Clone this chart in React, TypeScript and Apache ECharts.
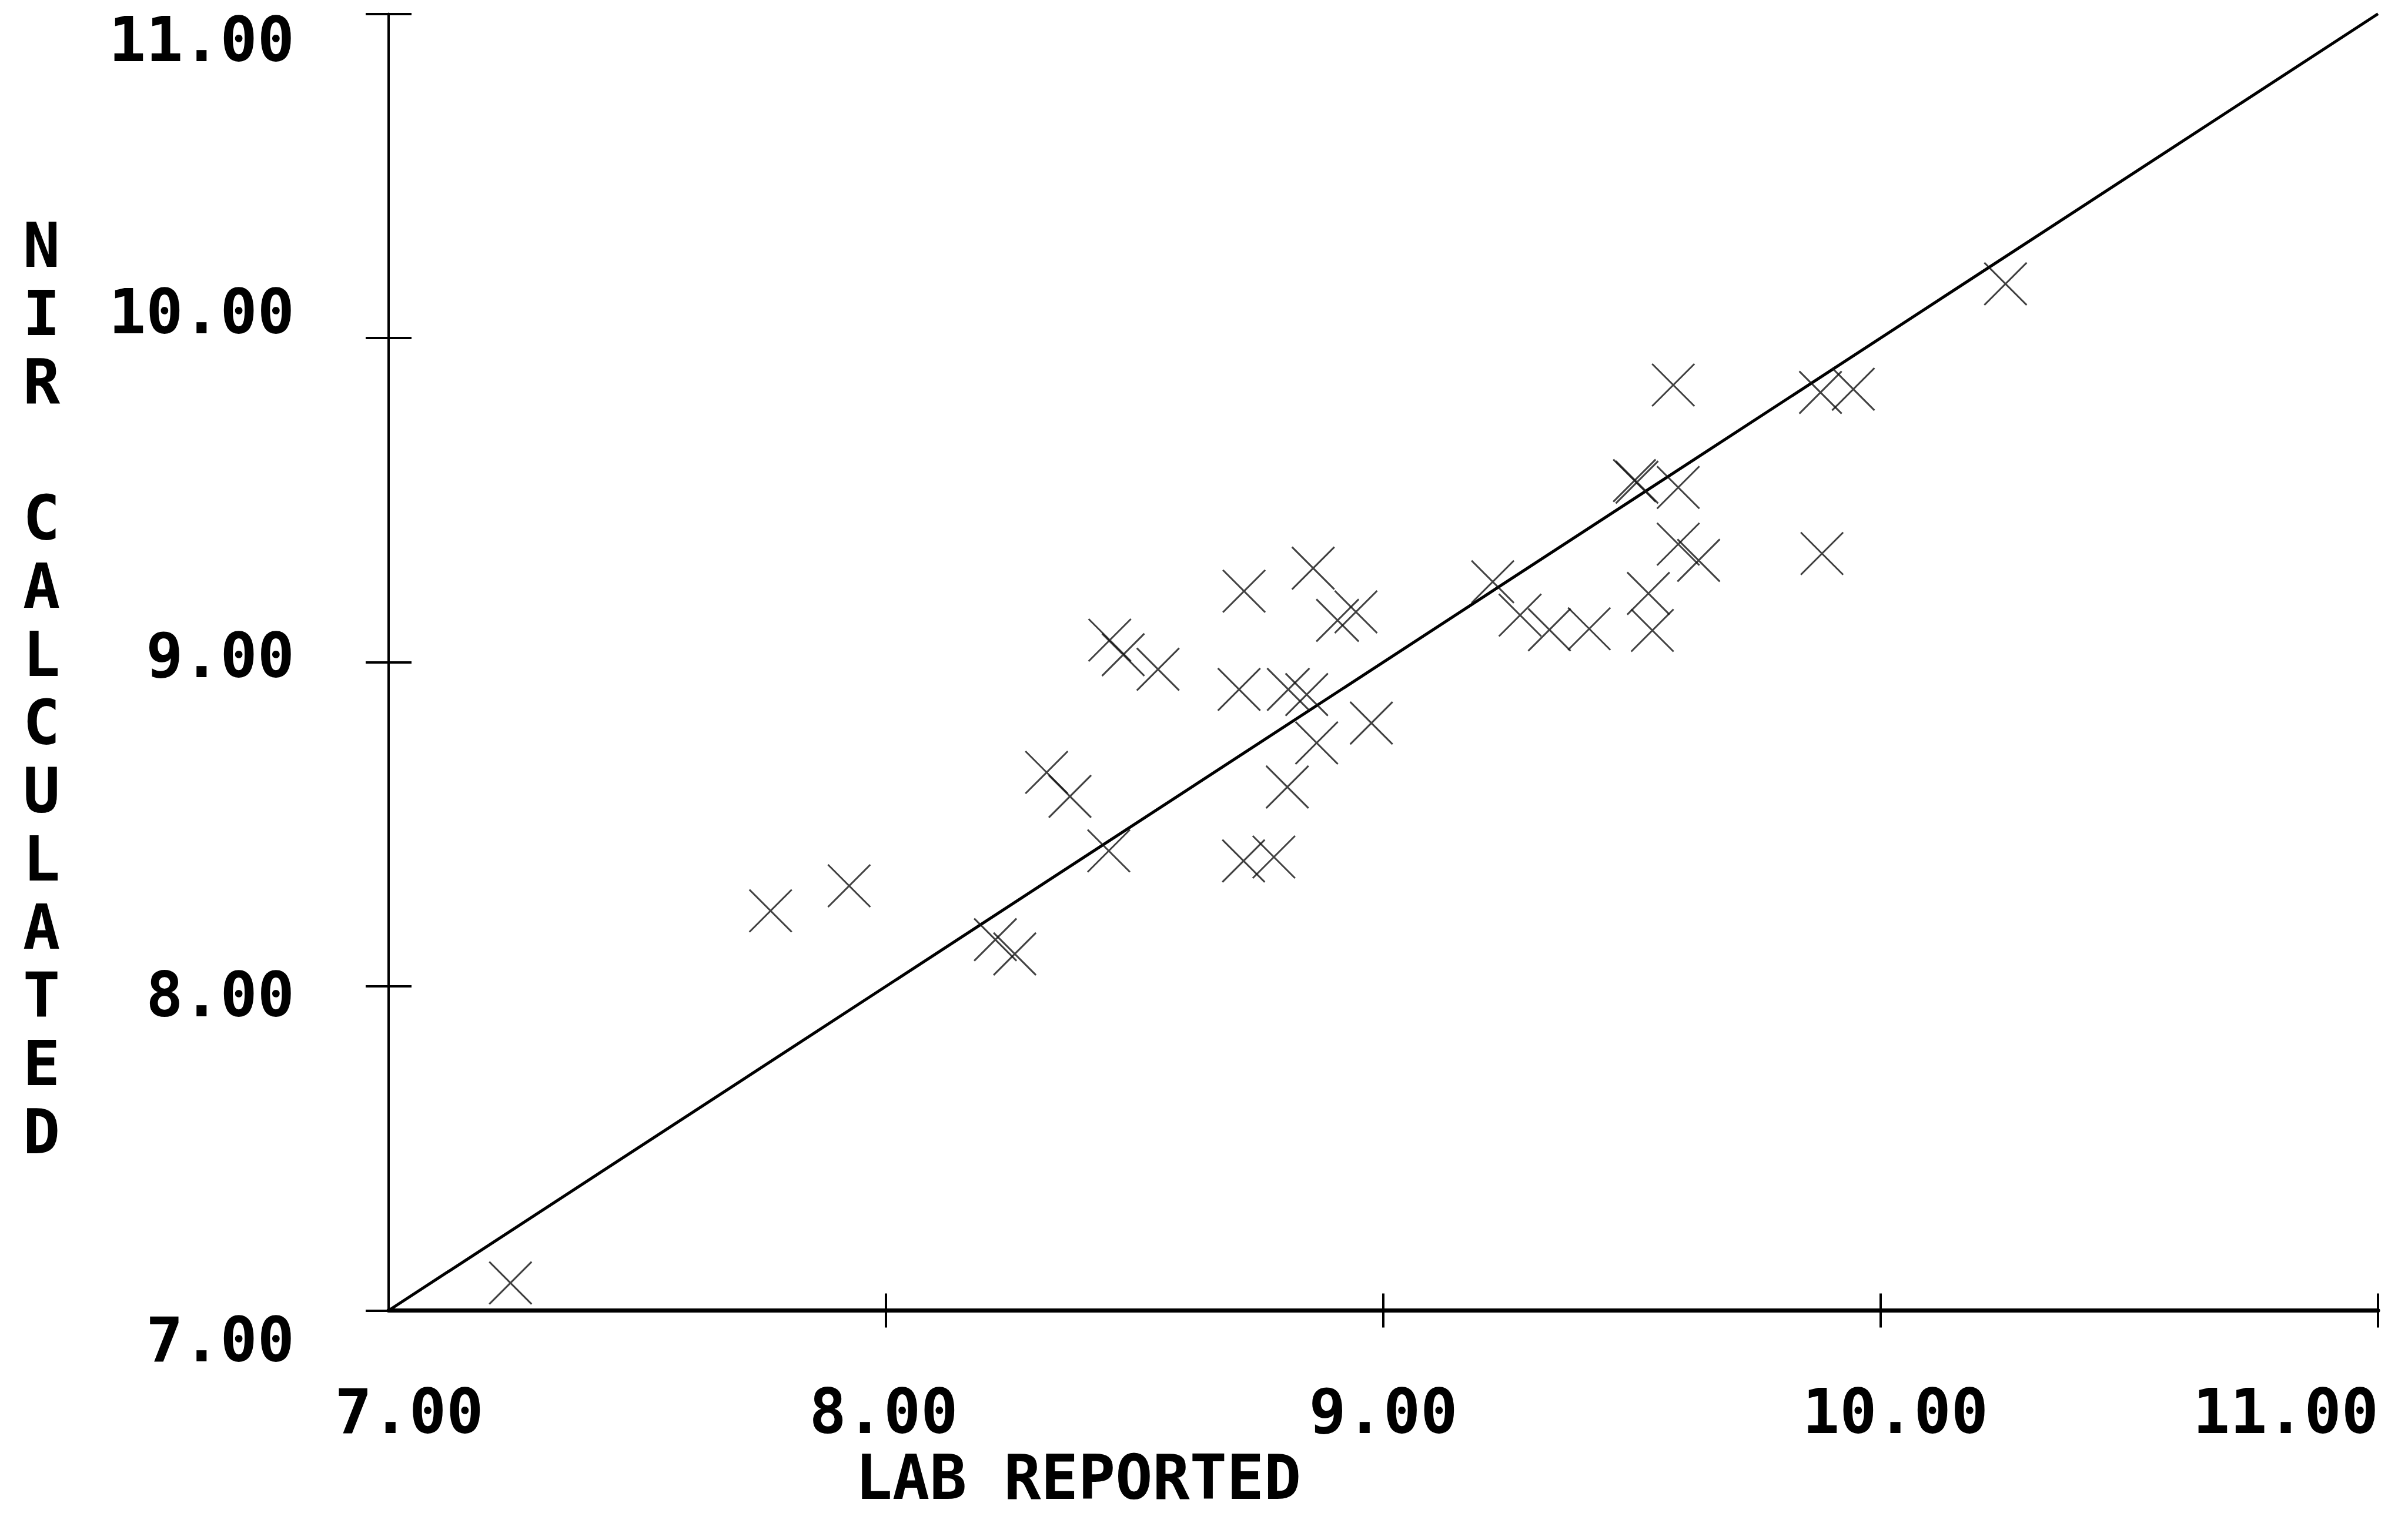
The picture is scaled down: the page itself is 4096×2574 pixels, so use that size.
import React, { useEffect, useRef } from "react";
import * as echarts from "echarts";

// ---- data ----
const LAB_REPORTED = [
  7.245, 7.768, 7.926, 8.22, 8.259, 8.323, 8.37, 8.448, 8.45, 8.477,
  8.547, 8.71, 8.719, 8.78, 8.807, 8.859, 8.72, 8.809, 8.846, 8.866,
  8.976, 8.908, 8.945, 9.22, 9.275, 9.334, 9.414, 9.533, 9.541, 9.505,
  9.51, 9.593, 9.593, 9.634, 9.583, 9.882, 9.879, 9.945, 10.251,
];
const NIR_CALCULATED = [
  7.085, 8.233, 8.31, 8.144, 8.1, 8.66, 8.586, 8.418, 9.068, 9.023,
  8.978, 8.916, 8.387, 8.399, 8.615, 9.29, 9.219, 8.916, 8.9, 8.751,
  8.812, 9.129, 9.155, 9.248, 9.145, 9.1, 9.103, 9.212, 9.098, 9.56,
  9.555, 9.539, 9.364, 9.314, 9.855, 9.335, 9.832, 9.842, 10.167,
];
const FIT_X = [7, 11];
const FIT_Y = [7, 11];

const X_TICKS = [7, 8, 9, 10, 11];
const X_TICK_LABELS = ["7.00", "8.00", "9.00", "10.00", "11.00"];
const Y_TICKS = [7, 8, 9, 10, 11];
const Y_TICK_LABELS = ["7.00", "8.00", "9.00", "10.00", "11.00"];
const X_TITLE = "LAB REPORTED";
const Y_TITLE = "NIR CALCULATED";

// ---- styling ----
const FONT = '"DejaVu Sans Mono", "Liberation Mono", monospace';
const FS = 105;
// label nudges in px (positive = right / down)
const X_LABEL_SHIFT = [35, -4, 0, 25, -157];
const Y_LABEL_SHIFT = [50, 15, -11, -44, 44];

const GRID = { left: 661, right: 51, top: 23.5, bottom: 344.5 };
const W = 4096;
const H = 2574;

const baseFont = {
  fontFamily: FONT,
  fontSize: FS,
  fontWeight: "bold" as const,
  color: "#000",
  lineHeight: FS,
};

function buildOption() {
  const xRich: Record<string, any> = {};
  X_TICKS.forEach((_, i) => {
    const s = X_LABEL_SHIFT[i];
    xRich["x" + i] = {
      ...baseFont,
      padding: s >= 0 ? [0, 0, 0, 2 * s] : [0, -2 * s, 0, 0],
    };
  });
  const yRich: Record<string, any> = {};
  Y_TICKS.forEach((_, i) => {
    const s = Y_LABEL_SHIFT[i];
    yRich["y" + i] = {
      ...baseFont,
      padding: s >= 0 ? [2 * s, 0, 0, 0] : [0, 0, -2 * s, 0],
    };
  });

  const gridW = W - GRID.left - GRID.right;
  const gridH = H - GRID.top - GRID.bottom;

  const points = LAB_REPORTED.map((x, i) => [x, NIR_CALCULATED[i]]);
  const fit = FIT_X.map((x, i) => [x, FIT_Y[i]]);

  return {
    animation: false,
    backgroundColor: "#fff",
    grid: {
      ...GRID,
      containLabel: false,
      outerBoundsMode: "none",
    },
    graphic: [
      {
        type: "text",
        x: 70.5,
        y: 360,
        silent: true,
        style: {
          text: Y_TITLE.split("").join("\n"),
          fill: "#000",
          font: `bold ${FS}px ${FONT}`,
          fontFamily: FONT,
          fontSize: FS,
          fontWeight: "bold",
          lineHeight: 116,
          align: "center",
          verticalAlign: "top",
        },
      },
    ],
    xAxis: [
      {
        type: "value",
        min: 7,
        max: 11,
        interval: 1,
        position: "bottom",
        axisLine: { show: true, onZero: false, lineStyle: { color: "#000", width: 7 } },
        axisTick: {
          show: true,
          inside: false,
          length: 29,
          customValues: [8, 9, 10, 11],
          lineStyle: { color: "#000", width: 4 },
        },
        splitLine: { show: false },
        axisLabel: {
          show: true,
          margin: 120,
          showMinLabel: true,
          showMaxLabel: true,
          formatter: (v: number) => {
            const i = X_TICKS.indexOf(Math.round(v));
            return `{x${i}|${X_TICK_LABELS[i]}}`;
          },
          rich: xRich,
        },
        name: X_TITLE,
        nameLocation: "middle",
        nameGap: 232,
        nameTextStyle: { ...baseFont, padding: [0, 1038, 0, 0] },
      },
      {
        type: "value",
        min: 7,
        max: 11,
        interval: 1,
        position: "top",
        offset: -gridH,
        axisLine: { show: false },
        axisTick: {
          show: true,
          inside: false,
          length: 29,
          customValues: [8, 9, 10, 11],
          lineStyle: { color: "#000", width: 4 },
        },
        axisLabel: { show: false },
        splitLine: { show: false },
      },
    ],
    yAxis: [
      {
        type: "value",
        min: 7,
        max: 11,
        interval: 1,
        position: "left",
        axisLine: { show: true, onZero: false, lineStyle: { color: "#000", width: 4 } },
        axisTick: {
          show: true,
          inside: false,
          length: 39,
          lineStyle: { color: "#000", width: 4 },
        },
        splitLine: { show: false },
        axisLabel: {
          show: true,
          margin: 160,
          showMinLabel: true,
          showMaxLabel: true,
          formatter: (v: number) => {
            const i = Y_TICKS.indexOf(Math.round(v));
            return `{y${i}|${Y_TICK_LABELS[i]}}`;
          },
          rich: yRich,
        },
      },
      {
        type: "value",
        min: 7,
        max: 11,
        interval: 1,
        position: "right",
        offset: -gridW,
        axisLine: { show: false },
        axisTick: {
          show: true,
          inside: false,
          length: 39,
          lineStyle: { color: "#000", width: 4 },
        },
        axisLabel: { show: false },
        splitLine: { show: false },
      },
    ],
    series: [
      {
        type: "line",
        data: fit,
        xAxisIndex: 0,
        yAxisIndex: 0,
        symbol: "none",
        silent: true,
        lineStyle: { color: "#000", width: 5 },
        z: 2,
      },
      {
        type: "scatter",
        data: points,
        xAxisIndex: 0,
        yAxisIndex: 0,
        symbol: "path://M0,0L100,100M100,0L0,100",
        symbolSize: 72,
        itemStyle: {
          color: "rgba(0,0,0,0)",
          borderColor: "#111",
          borderWidth: 3,
        },
        z: 3,
      },
    ],
  };
}

export default function App() {
  const ref = useRef<HTMLDivElement>(null);
  useEffect(() => {
    if (!ref.current) return;
    const chart = echarts.init(ref.current, undefined, { renderer: "svg" });
    chart.setOption(buildOption() as any);
    return () => chart.dispose();
  }, []);
  return (
    <div
      ref={ref}
      style={{
        position: "absolute",
        left: 0,
        top: 0,
        width: W,
        height: H,
        background: "#fff",
      }}
    />
  );
}
